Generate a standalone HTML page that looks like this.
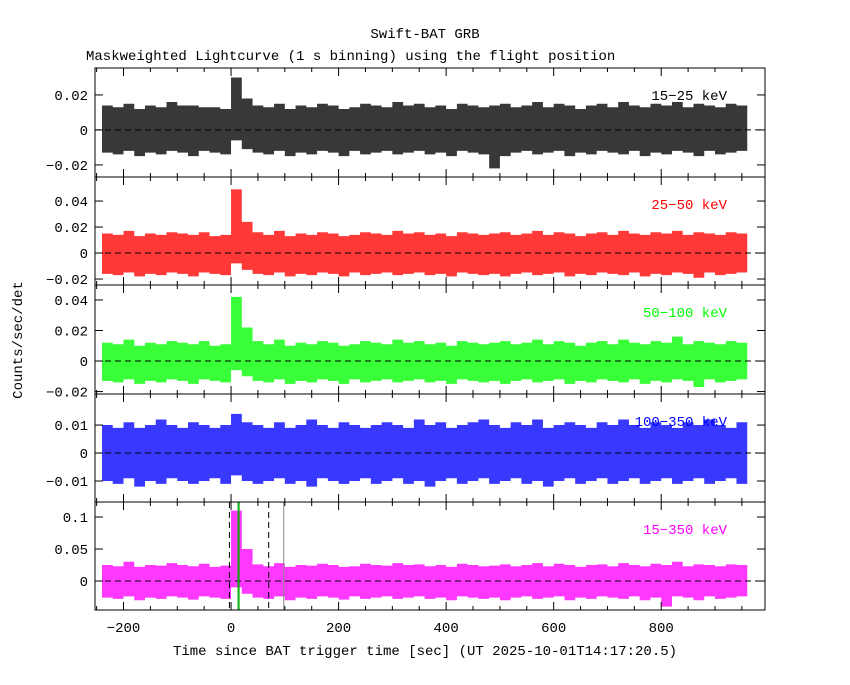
<!DOCTYPE html>
<html><head><meta charset="utf-8"><style>
body{margin:0;background:#fff;}
svg text{font-family:"Liberation Mono",monospace;font-size:14px;}
</style></head><body>
<svg id="c" width="850" height="680" xmlns="http://www.w3.org/2000/svg">
<text x="425" y="38" text-anchor="middle">Swift-BAT GRB</text>
<text x="86" y="60">Maskweighted Lightcurve (1 s binning) using the flight position</text>
<text transform="translate(22,340) rotate(-90)" text-anchor="middle">Counts/sec/det</text>
<text x="425" y="655" text-anchor="middle">Time since BAT trigger time [sec] (UT 2025-10-01T14:17:20.5)</text>
</svg>
<script>
// bins: start time of each 20 s bin; values in units of 1e-3 counts/sec/det
const binStart = -240, binWidth = 20;
const hi15_25 = [14,13,15,12,14,13,16,14,14,13,13,12,30,18,14,13,15,12,14,13,15,14,12,13,15,14,13,16,14,15,13,14,12,15,14,13,14,15,13,14,16,13,15,14,12,14,15,13,16,14,13,15,14,16,13,15,14,13,15,14];
const lo15_25 = [-13,-14,-12,-15,-13,-14,-12,-13,-15,-12,-13,-14,-6,-11,-13,-14,-12,-15,-13,-14,-12,-13,-15,-12,-14,-13,-12,-14,-13,-12,-14,-13,-15,-12,-13,-14,-22,-15,-13,-12,-14,-13,-12,-15,-13,-14,-12,-13,-14,-12,-15,-13,-14,-12,-13,-15,-12,-14,-13,-12];
const hi25_50 = [15,14,17,13,15,14,16,15,14,16,13,14,49,24,16,14,17,13,15,14,16,15,13,14,16,15,14,17,15,16,14,15,13,16,15,14,15,16,14,15,17,14,16,15,13,15,16,14,17,15,14,16,15,17,14,16,15,14,16,15];
const lo25_50 = [-16,-17,-15,-18,-16,-17,-15,-16,-18,-15,-16,-17,-8,-13,-16,-17,-15,-18,-16,-17,-15,-16,-18,-15,-17,-16,-15,-17,-16,-15,-17,-16,-18,-15,-16,-17,-16,-18,-16,-15,-17,-16,-15,-18,-16,-17,-15,-16,-17,-15,-18,-16,-17,-15,-16,-19,-15,-17,-16,-15];
const hi50_100 = [12,11,14,10,12,11,13,12,11,13,10,11,42,22,13,11,14,10,12,11,13,12,10,11,13,12,11,14,12,13,11,12,10,13,12,11,12,13,11,12,14,11,13,12,10,12,13,11,14,12,11,13,12,16,11,13,12,11,13,12];
const lo50_100 = [-13,-14,-12,-15,-13,-14,-12,-13,-15,-12,-13,-14,-6,-10,-13,-14,-12,-15,-13,-14,-12,-13,-15,-12,-14,-13,-12,-14,-13,-12,-14,-13,-15,-12,-13,-14,-13,-15,-13,-12,-14,-13,-12,-15,-13,-14,-12,-13,-14,-12,-15,-13,-14,-12,-13,-17,-12,-14,-13,-12];
const hi100_350 = [10,9,11,9,10,12,10,9,11,10,9,10,14,11,10,9,11,9,10,12,10,9,11,10,9,10,11,10,9,12,10,11,9,10,11,12,10,9,11,10,12,9,10,11,10,9,11,10,12,10,9,11,10,9,11,10,12,10,9,11];
const lo100_350 = [-10,-11,-9,-12,-10,-11,-9,-10,-11,-10,-9,-11,-8,-10,-11,-10,-9,-11,-10,-12,-9,-10,-11,-10,-9,-11,-10,-9,-11,-10,-12,-10,-9,-11,-10,-9,-11,-10,-9,-11,-10,-12,-10,-9,-11,-10,-9,-11,-10,-9,-11,-10,-9,-11,-10,-9,-11,-10,-9,-11];
const hi15_350 = [25,23,30,22,25,24,28,25,23,27,22,24,110,50,26,23,28,22,25,24,27,25,22,23,27,25,24,28,25,26,23,25,22,27,25,23,24,26,23,25,28,23,27,25,22,25,26,23,28,25,23,27,25,30,23,26,25,23,26,25];
const lo15_350 = [-26,-28,-24,-30,-26,-28,-24,-26,-29,-24,-26,-28,-10,-20,-26,-28,-24,-30,-26,-28,-24,-26,-29,-24,-28,-26,-24,-28,-26,-24,-28,-26,-30,-24,-26,-28,-26,-30,-26,-24,-28,-26,-24,-30,-26,-28,-24,-26,-28,-24,-30,-26,-40,-24,-26,-30,-24,-28,-26,-24];
const xTicks = [-200,0,200,400,600,800];
const bandLabels = ["15\u221225 keV","25\u221250 keV","50\u2212100 keV","100\u2212350 keV","15\u2212350 keV"];
const yTicks = [[-0.02,0,0.02],[-0.02,0,0.02,0.04],[-0.02,0,0.02,0.04],[-0.01,0,0.01],[0,0.05,0.1]];
const yTickLabels = [["\u22120.02","0","0.02"],["\u22120.02","0","0.02","0.04"],["\u22120.02","0","0.02","0.04"],["\u22120.01","0","0.01"],["0","0.05","0.1"]];
const markerLines = [-3,13,15,70,98];

const NS="http://www.w3.org/2000/svg", svg=document.getElementById('c');
const X0=95,X1=765,T0=-253,T1=993;
const xs=t=>X0+(t-T0)/(T1-T0)*(X1-X0);
function mk(tag,attrs,parent){const e=document.createElementNS(NS,tag);for(const k in attrs)e.setAttribute(k,attrs[k]);(parent||svg).appendChild(e);return e;}
const panels=[
 {top:68,bot:177,ymin:-0.0269,ymax:0.0354,hi:hi15_25,lo:lo15_25,col:"#000"},
 {top:177,bot:285,ymin:-0.0246,ymax:0.0585,hi:hi25_50,lo:lo25_50,col:"#f00"},
 {top:285,bot:394,ymin:-0.0216,ymax:0.0498,hi:hi50_100,lo:lo50_100,col:"#0f0"},
 {top:394,bot:502,ymin:-0.0175,ymax:0.0211,hi:hi100_350,lo:lo100_350,col:"#00f"},
 {top:502,bot:610,ymin:-0.0453,ymax:0.1234,hi:hi15_350,lo:lo15_350,col:"#f0f"}];
panels.forEach((p,i)=>{
 const ys=v=>p.bot-(v-p.ymin)/(p.ymax-p.ymin)*(p.bot-p.top);
 const g=mk('g',{});
 
 
 let up=[],dn=[];
 p.hi.forEach((v,k)=>{const a=xs(binStart+k*binWidth),b=xs(binStart+(k+1)*binWidth);up.push(a+','+ys(v/1000),b+','+ys(v/1000));});
 p.lo.forEach((v,k)=>{const a=xs(binStart+k*binWidth),b=xs(binStart+(k+1)*binWidth);dn.push(a+','+ys(v/1000),b+','+ys(v/1000));});
 const band=mk('polygon',{points:up.concat(dn.reverse()).join(' '),fill:p.col,'fill-opacity':0.78,stroke:'none'},g);
 
 
 const zl=mk('line',{x1:X0,x2:X1,y1:ys(0),y2:ys(0),stroke:'#000','stroke-dasharray':'6,4'},g);
 
 
 if(i==4){markerLines.forEach((t,j)=>{const l=mk('line',{x1:xs(t),x2:xs(t),y1:p.top,y2:p.bot,stroke:(j==1||j==2)?'#0a0':(j==4?'#888':'#000'),'stroke-dasharray':(j==0||j==3)?'6,4':'none'},g);
   
   });}
 const fr=mk('rect',{x:X0,y:p.top,width:X1-X0,height:p.bot-p.top,fill:'none',stroke:'#000'},g);
 
 
 for(let t=-250;t<=950;t+=50){const L=(t%200==0)?8:4;
  mk('line',{x1:xs(t),x2:xs(t),y1:p.bot,y2:p.bot-L,stroke:'#000'},g);
  mk('line',{x1:xs(t),x2:xs(t),y1:p.top,y2:p.top+L,stroke:'#000'},g);}
 yTicks[i].forEach((v,k)=>{const y=ys(v);
  mk('line',{x1:X0,x2:X0+8,y1:y,y2:y,stroke:'#000'},g);
  mk('line',{x1:X1,x2:X1-8,y1:y,y2:y,stroke:'#000'},g);
  const tl=mk('text',{x:X0-7,y:y+5,'text-anchor':'end'},g);tl.textContent=yTickLabels[i][k];
  
  });
 const bl=mk('text',{x:727,y:p.top+32,'text-anchor':'end',fill:p.col},g);bl.textContent=bandLabels[i];
 
 
});
xTicks.forEach(t=>{const tl=mk('text',{x:xs(t),y:632,'text-anchor':'middle'});tl.textContent=t<0?'\u2212'+(-t):t;
 
 });
</script>
</body></html>
